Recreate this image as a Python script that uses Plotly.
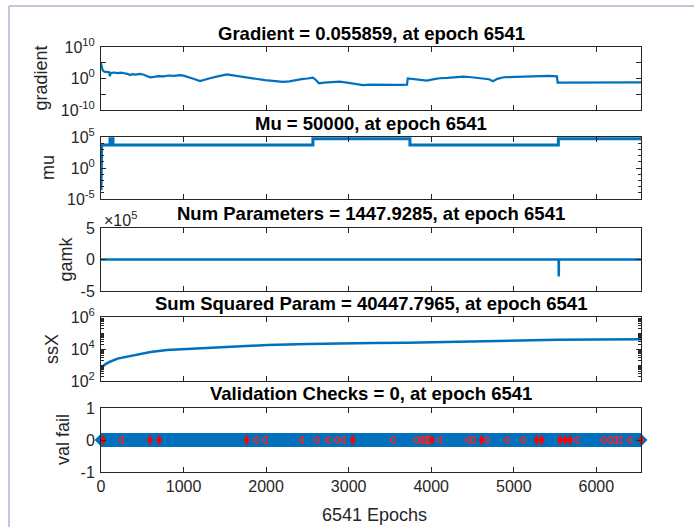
import plotly.graph_objects as go

# ---- training record -------------------------------------------------------
final_epoch = 6541

grad_epochs = [0, 8, 20, 40, 70, 100, 108, 115, 130, 160, 200, 240, 280, 320, 351, 380,
               420, 470, 520, 560, 593, 640, 700, 760, 820, 880, 957, 1000, 1060,
               1120, 1199, 1250, 1320, 1400, 1470, 1526, 1580, 1650, 1720, 1800,
               1870, 1940, 1986, 2050, 2120, 2204, 2280, 2350, 2430, 2500, 2567,
               2600, 2640, 2700, 2780, 2895, 2980, 3060, 3173, 3260, 3350, 3450,
               3550, 3640, 3706, 3716, 3760, 3830, 3900, 3948, 4020, 4100, 4200,
               4300, 4384, 4460, 4540, 4620, 4700, 4748, 4800, 4880, 4990, 5080,
               5180, 5317, 5420, 5522, 5532, 5545, 5650, 5800, 5950, 6100, 6250,
               6400, 6541]
grad_values = [8e4, 5e3, 4e2, 1.5e2, 1.2e2, 90, 5, 40, 60, 80, 50, 70, 45, 30, 12, 25,
               18, 30, 15, 6, 2.5, 3.5, 6, 5, 9, 7, 12, 8, 3,
               0.8, 0.16, 0.3, 1.2, 4, 10, 20, 12, 6, 4, 1.6,
               0.9, 0.5, 0.3, 0.2, 0.12, 0.08, 0.12, 0.3, 0.6, 1.0, 2.0,
               0.4, 0.03, 0.05, 0.08, 0.1, 0.05, 0.02, 0.008, 0.012, 0.01, 0.012,
               0.009, 0.01, 0.011, 1.0, 0.8, 0.4, 0.3, 0.2, 0.5, 1.2, 1.5,
               2.5, 4, 3, 2, 1.5, 0.6, 0.13, 0.8, 2.5, 3, 4,
               5, 6, 7, 5, 0.045, 0.05, 0.05, 0.055, 0.06, 0.055, 0.05,
               0.055, 0.055859]

mu_epochs = [0, 1, 2, 3, 4, 5, 6, 7, 109, 145, 2567, 3742, 5540, 6541]
mu_values = [5e-4, 5e-3, 5e-2, 0.5, 5, 50, 500, 5000, 5e4, 5000, 5e4, 5000, 5e4, 5e4]

gamk_epochs = [0, 3000, 5543, 5545, 5547, 6541]
gamk_values = [1400, 1440, 1450, -2.7e5, 1450, 1447.9285]

ssx_epochs = [0, 5, 20, 50, 109, 200, 387, 600, 799, 1000, 1199, 1600, 2010, 2500,
              2900, 3300, 3706, 4300, 4990, 5522, 6000, 6541]
ssx_values = [450, 550, 800, 1100, 1600, 2500, 4000, 6500, 8700, 9800, 12000, 15000,
              17800, 20500, 23000, 24000, 25000, 29000, 33000, 38000, 39500, 40447.7965]

val_epochs = [0, 6541]
val_values = [0, 0]
val_mark_epochs = [28, 594, 706, 1765, 3049, 4006, 4611, 5278, 5338, 5560, 5621,
                   5681, 6541]
val_hint_epochs = [251, 1878, 1987, 2431, 2613, 2750, 2855, 2935, 3537, 3824, 3888,
                   3925, 3961, 4106, 4449, 4506, 4672, 4914, 5108, 5762, 6085, 6166,
                   6226, 6287, 6408]

titles = ["Gradient = 0.055859, at epoch 6541",
          "Mu = 50000, at epoch 6541",
          "Num Parameters = 1447.9285, at epoch 6541",
          "Sum Squared Param = 40447.7965, at epoch 6541",
          "Validation Checks = 0, at epoch 6541"]
ylabels = ["gradient", "mu", "gamk", "ssX", "val fail"]
x_ticks = [0, 1000, 2000, 3000, 4000, 5000, 6000]

# ---- page geometry (pixels) ------------------------------------------------
W, H = 694, 527
X0, X1 = 101, 641
panels = [(47, 110), (137, 199), (228, 291), (317, 381), (408, 472)]
title_y = [33, 123, 213, 303, 393]
label_x = [41, 48, 65, 52, 63]

BLUE = "#0072BD"
INK = "#262626"
FONT = "Liberation Sans, Arial, sans-serif"


def px(x):
    return x / W


def py(y):
    return 1 - y / H


fig = go.Figure()

fig.add_trace(go.Scatter(x=grad_epochs, y=grad_values, mode="lines",
                         line=dict(color=BLUE, width=2.2), xaxis="x", yaxis="y"))
fig.add_trace(go.Scatter(x=mu_epochs, y=mu_values, mode="lines",
                         line=dict(color=BLUE, width=3, shape="hv"),
                         xaxis="x2", yaxis="y2"))
fig.add_trace(go.Scatter(x=gamk_epochs, y=gamk_values, mode="lines",
                         line=dict(color=BLUE, width=2.5), xaxis="x3", yaxis="y3"))
fig.add_trace(go.Scatter(x=ssx_epochs, y=ssx_values, mode="lines",
                         line=dict(color=BLUE, width=2.5), xaxis="x4", yaxis="y4"))
fig.add_trace(go.Scatter(x=val_epochs, y=val_values, mode="lines+markers",
                         line=dict(color=BLUE, width=14),
                         marker=dict(symbol="diamond", size=10, color=BLUE),
                         cliponaxis=False, xaxis="x5", yaxis="y5"))
fig.add_trace(go.Scatter(x=val_hint_epochs, y=[0] * len(val_hint_epochs), mode="markers",
                         marker=dict(symbol="triangle-left-open", size=7,
                                     color="#ff2020", line=dict(width=1.1, color="#ff2020")),
                         xaxis="x5", yaxis="y5"))
fig.add_trace(go.Scatter(x=val_mark_epochs, y=[0] * len(val_mark_epochs), mode="markers",
                         marker=dict(symbol="diamond-tall", size=8, color="#ff0000"),
                         cliponaxis=False, xaxis="x5", yaxis="y5"))


def sup(e):
    return "10<sup>%d</sup>" % e


axis_common = dict(showline=True, linecolor=INK, linewidth=1, mirror="ticks",
                   ticks="inside", ticklen=5, tickcolor=INK, tickwidth=1,
                   showgrid=False, zeroline=False, automargin=False,
                   tickfont=dict(family=FONT, size=16, color=INK))

yaxes = [
    dict(type="log", range=[-10, 10],
         tickvals=[1e-10, 1, 1e10], ticktext=[sup(-10), sup(0), sup(10)],
         minor=dict(ticks="inside", ticklen=5, tickcolor=INK, tickvals=[1e-5, 1e5])),
    dict(type="log", range=[-5, 5],
         tickvals=[1e-5, 1, 1e5], ticktext=[sup(-5), sup(0), sup(5)],
         minor=dict(ticks="inside", ticklen=3, tickcolor=INK,
                    tickvals=[10.0 ** k for k in range(-4, 5) if k != 0])),
    dict(type="linear", range=[-5e5, 5e5],
         tickvals=[-5e5, 0, 5e5], ticktext=["-5", "0", "5"]),
    dict(type="log", range=[2, 6],
         tickvals=[1e2, 1e4, 1e6], ticktext=[sup(2), sup(4), sup(6)],
         minor=dict(ticks="inside", ticklen=3, tickcolor=INK,
                    tickvals=[m * 10.0 ** k for k in range(2, 6) for m in range(2, 10)]
                    + [1e3, 1e5])),
    dict(type="linear", range=[-1, 1], tickvals=[-1, 0, 1], ticktext=["-1", "0", "1"]),
]

layout = dict(width=W, height=H, margin=dict(l=0, r=0, t=0, b=0, autoexpand=False),
              paper_bgcolor="white", plot_bgcolor="white", showlegend=False)

annotations = []
for i, (top, bot) in enumerate(panels):
    n = "" if i == 0 else str(i + 1)
    xa = dict(axis_common, domain=[px(X0), px(X1)], range=[0, final_epoch],
              tickvals=x_ticks, anchor="y" + n,
              showticklabels=(i == 4))
    if i != 0:
        xa["matches"] = "x"
    ya = dict(axis_common, domain=[py(bot), py(top)], anchor="x" + n,
              ticklabelstandoff=2)
    ya.update(yaxes[i])
    layout["xaxis" + n] = xa
    layout["yaxis" + n] = ya
    annotations.append(dict(text="<b>%s</b>" % titles[i], x=px(371), y=py(title_y[i]),
                            xref="paper", yref="paper", showarrow=False,
                            xanchor="center", yanchor="middle",
                            font=dict(family=FONT, size=18.5, color="#000000")))
    annotations.append(dict(text=ylabels[i], x=px(label_x[i]), y=py((top + bot) / 2),
                            xref="paper", yref="paper", showarrow=False, textangle=-90,
                            xanchor="center", yanchor="middle",
                            font=dict(family=FONT, size=18, color=INK)))

annotations.append(dict(text="6541 Epochs", x=px(374), y=py(515), xref="paper",
                        yref="paper", showarrow=False, xanchor="center",
                        yanchor="middle", font=dict(family=FONT, size=18, color=INK)))
annotations.append(dict(text="\u00d710<sup>5</sup>", x=px(102), y=py(219), xref="paper",
                        yref="paper", showarrow=False, xanchor="left",
                        yanchor="middle", font=dict(family=FONT, size=16, color=INK)))
layout["annotations"] = annotations

# window frame lines
layout["shapes"] = [
    dict(type="line", xref="paper", yref="paper", x0=px(9), x1=1, y0=py(6), y1=py(6),
         line=dict(color="#a6b7d0", width=1.5)),
    dict(type="line", xref="paper", yref="paper", x0=px(9), x1=px(9), y0=py(6), y1=0,
         line=dict(color="#a6b7d0", width=1.5)),
]

fig.update_layout(**layout)
fig.write_html("out.html")
